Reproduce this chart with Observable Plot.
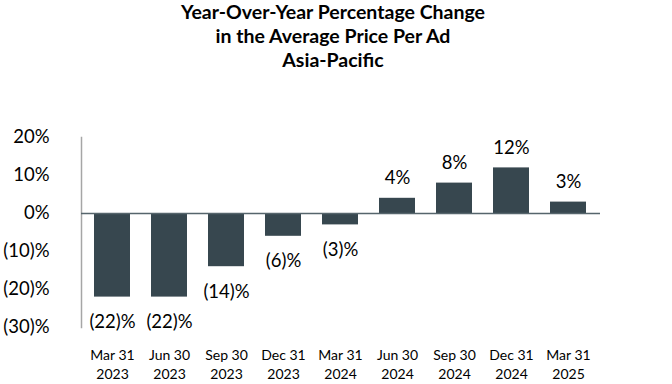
<!DOCTYPE html>
<html>
<head>
<meta charset="utf-8">
<script src="https://cdn.jsdelivr.net/npm/d3@7"></script>
<script src="https://cdn.jsdelivr.net/npm/@observablehq/plot@0.6"></script>
<style>
  html, body { margin: 0; padding: 0; background: #fff; }
  #title { width: 666px; height: 78px; text-align: center; font-family: Lato, "Open Sans", sans-serif;
           font-weight: 700; font-size: 19.5px; line-height: 24px; color: #000; padding-top: 0px; box-sizing: border-box; }
  #chart svg { display: block; }
</style>
</head>
<body>
<div id="title">Year-Over-Year Percentage Change<br>in the Average Price Per Ad<br>Asia-Pacific</div>
<div id="chart"></div>
<script>
const periods = ["Mar 31\n2023", "Jun 30\n2023", "Sep 30\n2023", "Dec 31\n2023", "Mar 31\n2024",
                 "Jun 30\n2024", "Sep 30\n2024", "Dec 31\n2024", "Mar 31\n2025"];
const changes = [-22, -22, -14, -6, -3, 4, 8, 12, 3];
const yTicks = [20, 10, 0, -10, -20, -30];

const fmt = d => d < 0 ? `(${-d})%` : `${d}%`;
const data = periods.map((p, i) => ({period: p, value: changes[i]}));

const chart = Plot.plot({
  width: 672,
  height: 306,
  marginLeft: 81,
  marginRight: 72,
  marginTop: 59,
  marginBottom: 57,
  style: {fontFamily: "Lato, 'Open Sans', sans-serif", color: "#000", background: "#fff"},
  x: {domain: periods, paddingInner: 0.36, paddingOuter: 0.18, label: null},
  y: {domain: [-30, 20], label: null},
  marks: [
    Plot.frame({anchor: "left", stroke: "#a6a6a6", strokeWidth: 1.5}),
    Plot.barY(data, {x: "period", y: "value", fill: "#37474f"}),
    Plot.ruleY([0], {stroke: "#56656c", strokeWidth: 1.5}),
    Plot.axisY({ticks: yTicks, tickFormat: fmt, tickSize: 0, tickPadding: 32, fontSize: 18.5, label: null}),
    Plot.axisX({tickSize: 0, tickPadding: 20, fontSize: 14, lineHeight: 1.3, label: null}),
    Plot.text(data.filter(d => d.value >= 0), {x: "period", y: "value", text: d => fmt(d.value), dy: -20, fontSize: 18.5, fill: "#000"}),
    Plot.text(data.filter(d => d.value < 0), {x: "period", y: "value", text: d => fmt(d.value), dy: 25, fontSize: 18.5, fill: "#000"})
  ]
});
document.getElementById("chart").appendChild(chart);
</script>
</body>
</html>
